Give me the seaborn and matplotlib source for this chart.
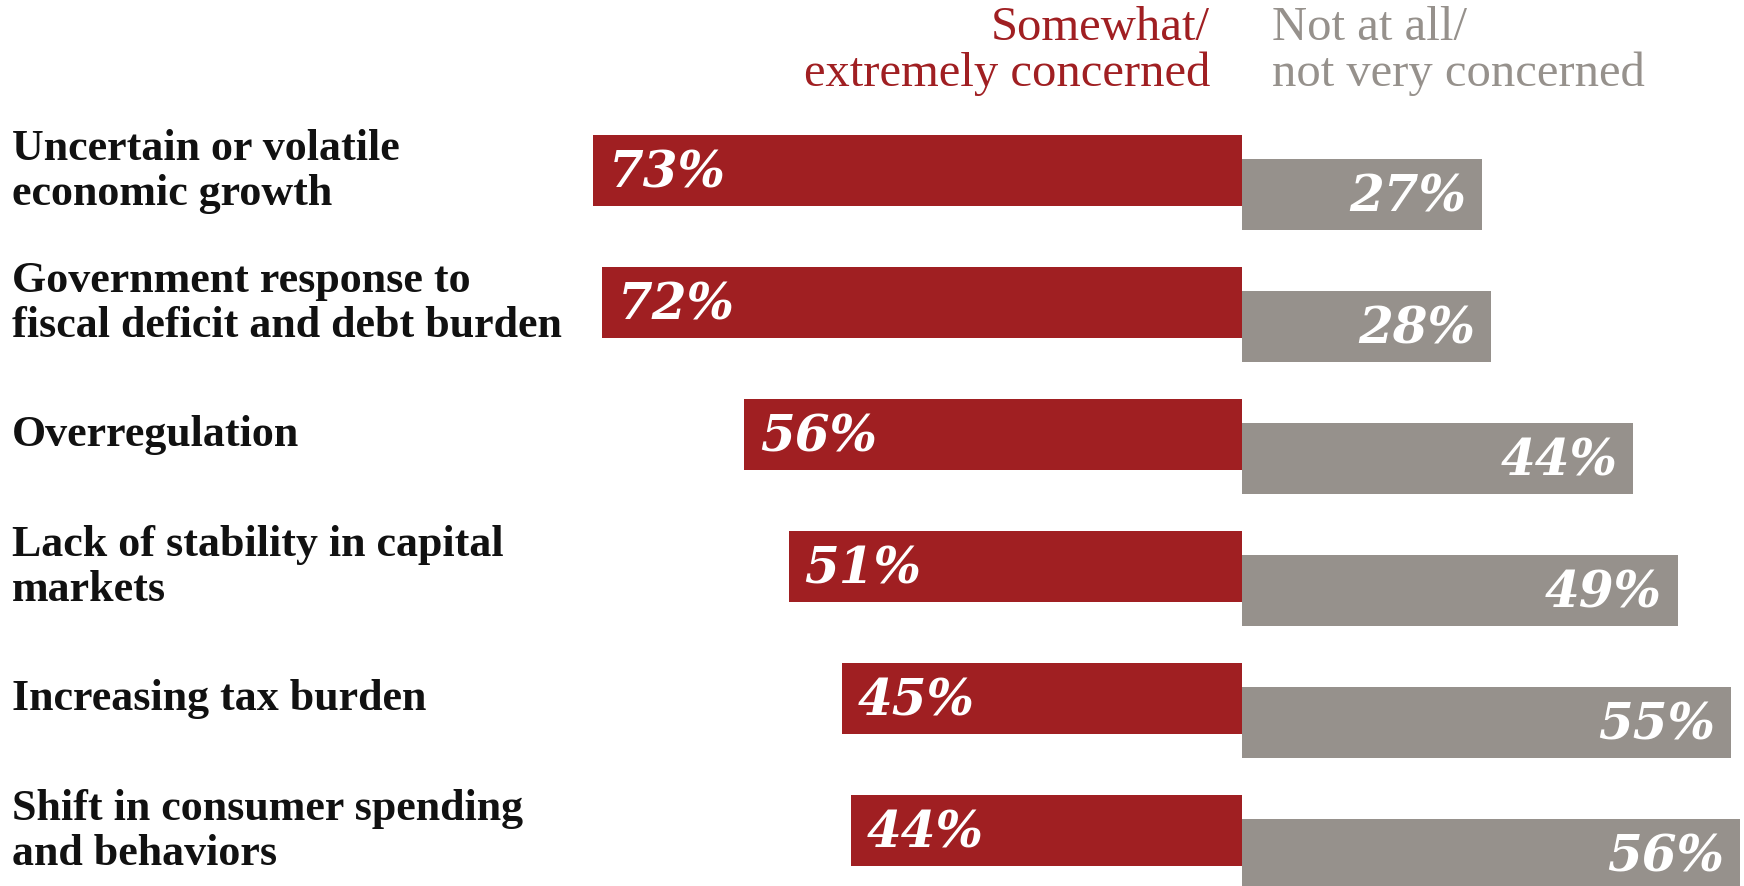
import matplotlib
matplotlib.use("Agg")
import matplotlib.pyplot as plt
import seaborn as sns
import pandas as pd

categories = [
    "Uncertain or volatile\neconomic growth",
    "Government response to\nfiscal deficit and debt burden",
    "Overregulation",
    "Lack of stability in capital\nmarkets",
    "Increasing tax burden",
    "Shift in consumer spending\nand behaviors",
]
concerned = [73, 72, 56, 51, 45, 44]
not_concerned = [27, 28, 44, 49, 55, 56]
header_left = "Somewhat/\nextremely concerned"
header_right = "Not at all/\nnot very concerned"

RED = "#A01F22"
GREY = "#96918C"

sns.set_theme(style="white")
plt.rcParams["font.family"] = ["Liberation Serif", "DejaVu Serif"]

W, H = 1744, 887
fig = plt.figure(figsize=(W / 100, H / 100), dpi=100)
ax = fig.add_axes([0, 0, 1, 1])

df = pd.DataFrame({
    "category": categories,
    "concerned": [-v for v in concerned],
    "not_concerned": not_concerned,
})

bar_h = 0.54
shift = 0.18

sns.barplot(data=df, y="category", x="concerned", color=RED, width=bar_h,
            orient="h", ax=ax, saturation=1, linewidth=0)
n_red = len(ax.patches)
sns.barplot(data=df, y="category", x="not_concerned", color=GREY, width=bar_h,
            orient="h", ax=ax, saturation=1, linewidth=0)
# push the "not concerned" bars down so they sit staggered below the red ones
for p in ax.patches[n_red:]:
    p.set_y(p.get_y() + shift)

px = 8.89           # pixels per percentage point
center = 1242       # pixel column of the zero line
x0 = -center / px
x1 = (W - center) / px
ax.set_xlim(x0, x1)
row = 132
first = 171.5
ax.set_ylim((H - first) / row, -first / row)
ax.axis("off")

value_font = dict(family=["DejaVu Serif"], fontsize=36, fontweight="bold",
                  style="italic", color="white")
pad = 15.5 / px
for i, (cat, c, n) in enumerate(zip(categories, concerned, not_concerned)):
    ax.text(x0 + 12 / px, i, cat, ha="left", va="center", fontsize=31.7,
            fontweight="bold", color="#111111", linespacing=1.13)
    ax.text(-c + pad, i + 0.02, f"{c}%", ha="left", va="center", **value_font)
    ax.text(n - pad, i + shift + 0.02, f"{n}%", ha="right", va="center", **value_font)

hy = (51 - first) / row
ax.text(-(center - 1210) / px, hy, header_left, ha="right", va="center",
        fontsize=35, color=RED, linespacing=1.02)
ax.text((1272 - center) / px, hy, header_right, ha="left", va="center",
        fontsize=35, color=GREY, linespacing=1.02)

fig.savefig("out.png", dpi=100)
